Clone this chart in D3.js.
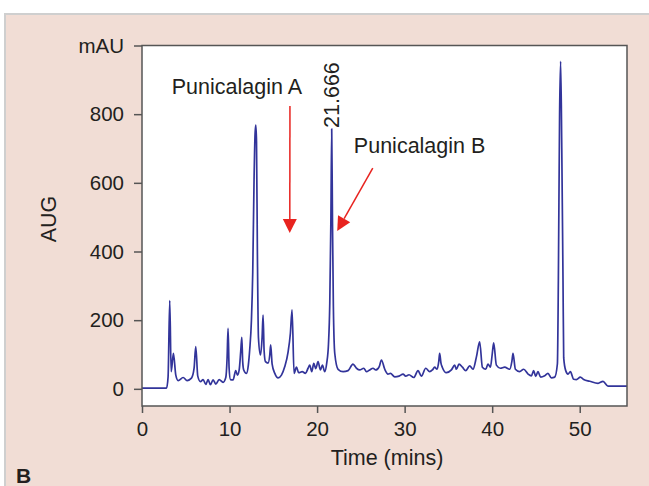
<!DOCTYPE html>
<html>
<head>
<meta charset="utf-8">
<script src="https://cdn.jsdelivr.net/npm/d3@7"></script>
<style>
  html, body { margin: 0; padding: 0; background: #ffffff; }
  svg { display: block; font-family: "Liberation Sans", Arial, sans-serif; }
</style>
</head>
<body>
<svg id="chart" width="649" height="486"></svg>
<script>
// ---- data ----
const timeMin = [0, 2.8, 2.98, 3.17, 3.33, 3.59, 3.86, 4.13, 4.7, 5.15, 5.65, 5.95, 6.14, 6.37, 6.68, 6.98, 7.29, 7.55, 7.82, 8.12, 8.43, 8.81, 9.26, 9.57, 9.72, 9.83, 9.95, 10.1, 10.4, 10.71, 10.9, 11.1, 11.28, 11.4, 11.5, 11.62, 11.93, 12.15, 12.3, 12.5, 12.65, 12.8, 12.92, 13.0, 13.08, 13.18, 13.3, 13.53, 13.72, 13.83, 13.95, 14.1, 14.4, 14.6, 14.7, 14.86, 15.17, 15.55, 15.93, 16.3, 16.69, 16.95, 17.14, 17.37, 17.64, 17.9, 18.3, 18.67, 18.97, 19.16, 19.39, 19.62, 19.85, 20.11, 20.38, 20.61, 20.87, 21.1, 21.3, 21.45, 21.58, 21.67, 21.76, 21.86, 22.02, 22.4, 22.97, 23.54, 24.1, 24.5, 24.87, 25.33, 25.64, 26.01, 26.39, 26.7, 27.1, 27.35, 27.73, 28.1, 28.38, 28.87, 29.36, 29.82, 30.12, 30.5, 31.04, 31.53, 31.91, 32.41, 32.86, 33.17, 33.43, 33.7, 33.9, 34.0, 34.15, 34.3, 34.77, 35.34, 35.72, 35.91, 36.21, 36.6, 36.98, 37.43, 37.81, 38.2, 38.57, 38.88, 39.26, 39.52, 39.8, 40.0, 40.17, 40.48, 40.94, 41.43, 42.0, 42.25, 42.38, 42.65, 43.14, 43.6, 44.1, 44.48, 44.74, 44.97, 45.23, 45.54, 46.0, 46.37, 46.76, 47.14, 47.45, 47.56, 47.7, 47.82, 47.95, 48.09, 48.17, 48.4, 48.66, 48.93, 49.31, 49.62, 50.07, 50.45, 51.14, 52.09, 52.66, 53.23, 55.4];
const absorbance = [2, 2, 35, 257, 50, 103, 40, 24, 33, 24, 31, 60, 123, 37, 21, 27, 13, 27, 12, 26, 14, 27, 19, 33, 90, 176, 60, 27, 26, 53, 40, 55, 110, 150, 80, 55, 45, 70, 113, 200, 340, 610, 745, 768, 720, 400, 150, 99, 150, 215, 110, 79, 75, 100, 128, 73, 45, 32, 40, 64, 108, 162, 230, 45, 63, 47, 50, 45, 60, 69, 50, 74, 59, 79, 55, 69, 50, 75, 130, 250, 500, 757, 480, 240, 103, 57, 50, 53, 72, 60, 55, 60, 50, 55, 60, 55, 65, 84, 57, 43, 45, 35, 37, 43, 37, 41, 33, 53, 37, 60, 50, 55, 63, 57, 80, 103, 75, 63, 47, 55, 69, 57, 72, 63, 53, 67, 57, 93, 137, 63, 57, 72, 63, 100, 134, 69, 60, 63, 57, 80, 103, 57, 50, 57, 43, 38, 53, 36, 50, 34, 38, 45, 32, 34, 73, 316, 800, 954, 700, 316, 90, 53, 43, 50, 28, 27, 34, 27, 22, 16, 22, 8, 8];

const xTicks = [0, 10, 20, 30, 40, 50];
const yTicks = [0, 200, 400, 600, 800, 1000];
const yTickLabels = ["0", "200", "400", "600", "800", "mAU"];
const peakLabel = "21.666";
const labelA = "Punicalagin A";
const labelB = "Punicalagin B";
const xTitle = "Time (mins)";
const yTitle = "AUG";
const panelLetter = "B";

// ---- layout ----
const svg = d3.select("#chart");
const plot = { left: 142, right: 627, top: 45.5, bottom: 406 };
const x = d3.scaleLinear().domain([0, 55.4]).range([plot.left, plot.right]);
const y = d3.scaleLinear().domain([-50, 1000]).range([plot.bottom, plot.top]);
const fontSize = 20.5;
const bigFont = 21.5;
const textColor = "#231f20";
const axisColor = "#555555";
const lineColor = "#32349a";
const red = "#e8231f";

// panel background
svg.append("rect").attr("x", 5).attr("y", 14).attr("width", 660).attr("height", 490)
  .attr("fill", "#f1ddd5").attr("stroke", "#cfcfcf").attr("stroke-width", 2);

// plot area
svg.append("rect").attr("x", plot.left).attr("y", plot.top)
  .attr("width", plot.right - plot.left).attr("height", plot.bottom - plot.top)
  .attr("fill", "#ffffff");

// chromatogram
const pts = timeMin.map((t, i) => [t, absorbance[i]]);
const line = d3.line().x(d => x(d[0])).y(d => y(d[1])).curve(d3.curveMonotoneX);
svg.append("path").datum(pts).attr("d", line)
  .attr("fill", "none").attr("stroke", lineColor).attr("stroke-width", 1.7)
  .attr("stroke-linejoin", "round");

// frame
svg.append("rect").attr("x", plot.left).attr("y", plot.top)
  .attr("width", plot.right - plot.left).attr("height", plot.bottom - plot.top)
  .attr("fill", "none").attr("stroke", axisColor).attr("stroke-width", 1.5);

// y axis
const yAxis = d3.axisLeft(y).tickValues(yTicks).tickSize(8).tickPadding(10)
  .tickFormat((d, i) => yTickLabels[i]);
const gy = svg.append("g").attr("transform", `translate(${plot.left},0)`).call(yAxis);
gy.select(".domain").remove();
gy.selectAll(".tick line").attr("stroke", axisColor).attr("stroke-width", 1.5);
gy.selectAll(".tick text").attr("fill", textColor).style("font-size", fontSize + "px")
  .style("font-family", "Liberation Sans, Arial, sans-serif");

// x axis
const xAxis = d3.axisBottom(x).tickValues(xTicks).tickSize(7).tickPadding(8);
const gx = svg.append("g").attr("transform", `translate(0,${plot.bottom})`).call(xAxis);
gx.select(".domain").remove();
gx.selectAll(".tick line").attr("stroke", axisColor).attr("stroke-width", 1.5);
gx.selectAll(".tick text").attr("fill", textColor).style("font-size", fontSize + "px")
  .style("font-family", "Liberation Sans, Arial, sans-serif");

// axis titles
svg.append("text").attr("x", 387).attr("y", 465)
  .attr("text-anchor", "middle").attr("fill", textColor).style("font-size", bigFont + "px")
  .text(xTitle);
svg.append("text").attr("transform", "translate(56,219) rotate(-90)")
  .attr("text-anchor", "middle").attr("fill", textColor).style("font-size", bigFont + "px")
  .text(yTitle);
svg.append("text").attr("x", 16).attr("y", 483)
  .attr("fill", textColor).style("font-size", "21px").style("font-weight", "bold")
  .text(panelLetter);

// peak retention-time label
svg.append("text").attr("transform", `translate(${x(21.67) + 7.5},${y(757) - 1}) rotate(-90)`)
  .attr("text-anchor", "start").attr("fill", textColor).style("font-size", bigFont + "px")
  .text(peakLabel);

// annotations
svg.append("text").attr("x", x(3.4)).attr("y", y(860))
  .attr("fill", textColor).style("font-size", bigFont + "px").text(labelA);
svg.append("text").attr("x", x(24.2)).attr("y", y(688))
  .attr("fill", textColor).style("font-size", bigFont + "px").text(labelB);

function arrow(x1, y1, x2, y2) {
  const ang = Math.atan2(y2 - y1, x2 - x1);
  const len = 14, half = 7;
  const bx = x2 - len * Math.cos(ang), by = y2 - len * Math.sin(ang);
  svg.append("line").attr("x1", x1).attr("y1", y1).attr("x2", bx).attr("y2", by)
    .attr("stroke", red).attr("stroke-width", 1.5);
  const p1 = [bx + half * Math.sin(ang), by - half * Math.cos(ang)];
  const p2 = [bx - half * Math.sin(ang), by + half * Math.cos(ang)];
  svg.append("path").attr("d", `M${x2},${y2}L${p1[0]},${p1[1]}L${p2[0]},${p2[1]}Z`)
    .attr("fill", red);
}
arrow(x(16.9), y(824), x(16.88), y(454));
arrow(x(26.36), y(643), x(22.3), y(460));
</script>
</body>
</html>
